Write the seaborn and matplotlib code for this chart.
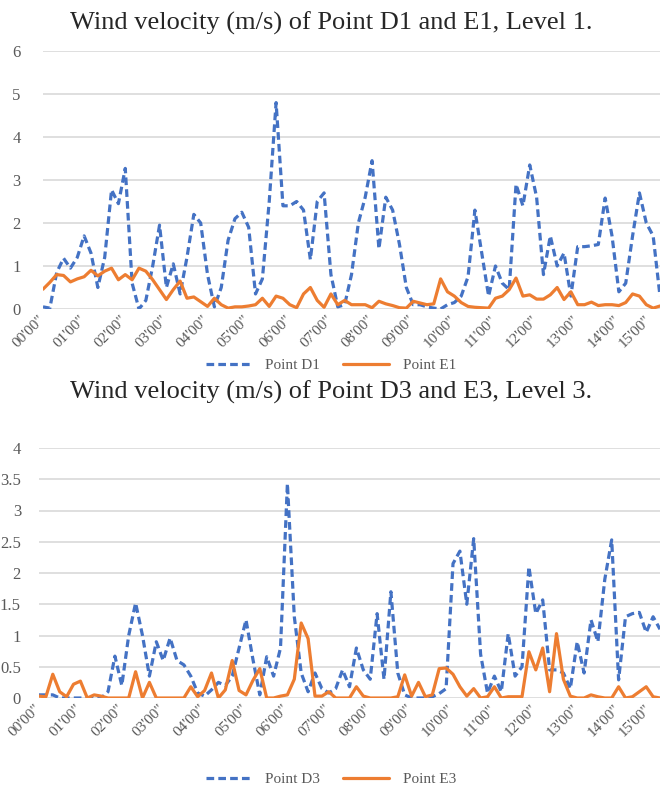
import numpy as np
import pandas as pd
import seaborn as sns
import matplotlib.pyplot as plt
import matplotlib.transforms as mtransforms
from matplotlib.lines import Line2D

# wind velocity every 10 s, 00'00" .. 15'00"
d1 = [0.05, 0.02, 0.85, 1.18, 0.95, 1.2, 1.7, 1.3, 0.5, 1.2,
      2.77, 2.45, 3.27, 0.6, 0.0, 0.2, 1.0, 1.95, 0.5, 1.05,
      0.35, 1.2, 2.2, 2.0, 0.8, 0.05, 0.5, 1.6, 2.1, 2.25,
      1.9, 0.35, 0.7, 2.5, 4.8, 2.4, 2.4, 2.5, 2.3, 1.15,
      2.5, 2.7, 0.8, 0.05, 0.1, 0.8, 2.0, 2.6, 3.45, 1.4,
      2.6, 2.3, 1.5, 0.5, 0.1, 0.1, 0.05, 0.02, 0.0, 0.1,
      0.15, 0.3, 0.75, 2.3, 1.3, 0.3, 1.0, 0.6, 0.45, 2.9,
      2.4, 3.35, 2.6, 0.8, 1.7, 1.0, 1.3, 0.3, 1.45, 1.45,
      1.47, 1.5, 2.58, 1.7, 0.4, 0.6, 1.7, 2.7, 2.0, 1.7, 0.3]
e1 = [0.46, 0.62, 0.8, 0.78, 0.63, 0.7, 0.75, 0.9, 0.77, 0.88,
      0.95, 0.68, 0.8, 0.68, 0.95, 0.88, 0.68, 0.45, 0.22, 0.45,
      0.65, 0.25, 0.28, 0.17, 0.06, 0.25, 0.1, 0.02, 0.05, 0.05,
      0.07, 0.1, 0.25, 0.06, 0.3, 0.25, 0.1, 0.03, 0.35, 0.5,
      0.2, 0.04, 0.35, 0.1, 0.2, 0.1, 0.1, 0.1, 0.03, 0.18,
      0.12, 0.08, 0.03, 0.02, 0.18, 0.14, 0.1, 0.12, 0.7, 0.4,
      0.3, 0.15, 0.06, 0.04, 0.03, 0.02, 0.25, 0.3, 0.45, 0.72,
      0.3, 0.33, 0.23, 0.23, 0.33, 0.5, 0.22, 0.4, 0.1, 0.1,
      0.16, 0.08, 0.1, 0.1, 0.08, 0.15, 0.35, 0.3, 0.1, 0.02, 0.07]
d3 = [0.05, 0.05, 0.05, 0.0, 0.0, 0.0, 0.0, 0.0, 0.0, 0.0,
      0.1, 0.67, 0.2, 1.0, 1.52, 1.0, 0.35, 0.9, 0.6, 0.96,
      0.6, 0.53, 0.35, 0.08, 0.03, 0.13, 0.25, 0.2, 0.35, 0.8,
      1.25, 0.62, 0.05, 0.66, 0.35, 0.8, 3.43, 1.3, 0.4, 0.1,
      0.4, 0.15, 0.08, 0.15, 0.45, 0.18, 0.8, 0.45, 0.3, 1.35,
      0.3, 1.7, 0.4, 0.05, 0.0, 0.0, 0.0, 0.02, 0.07, 0.15,
      2.15, 2.35, 1.5, 2.55, 0.7, 0.08, 0.35, 0.1, 1.03, 0.35,
      0.5, 2.1, 1.35, 1.57, 0.45, 0.45, 0.4, 0.15, 0.9, 0.4,
      1.25, 0.9, 1.9, 2.53, 0.29, 1.3, 1.35, 1.37, 1.05, 1.3, 1.1]
e3 = [0.03, 0.02, 0.38, 0.1, 0.02, 0.22, 0.27, 0.0, 0.05, 0.03,
      0.0, 0.0, 0.0, 0.0, 0.42, 0.0, 0.25, 0.0, 0.0, 0.0,
      0.0, 0.0, 0.18, 0.02, 0.12, 0.4, 0.0, 0.13, 0.6, 0.12,
      0.05, 0.28, 0.47, 0.0, 0.0, 0.03, 0.05, 0.3, 1.2, 0.95,
      0.03, 0.03, 0.1, 0.0, 0.0, 0.0, 0.18, 0.03, 0.0, 0.0,
      0.0, 0.0, 0.02, 0.37, 0.03, 0.25, 0.02, 0.05, 0.47, 0.48,
      0.38, 0.18, 0.03, 0.15, 0.0, 0.02, 0.18, 0.0, 0.02, 0.02,
      0.02, 0.74, 0.45, 0.8, 0.1, 1.03, 0.3, 0.03, 0.0, 0.0,
      0.05, 0.02, 0.0, 0.0, 0.18, 0.0, 0.02, 0.1, 0.18, 0.02, 0.0]

minutes = list(range(16))
tick_labels = [f"{m:02d}'00\"" for m in minutes]

blue = "#4472C4"
orange = "#ED7D31"
grey = "#595959"

sns.set_style("white")
plt.rcParams["font.family"] = ["Liberation Serif", "DejaVu Serif"]

fig = plt.figure(figsize=(6.62, 7.94), dpi=100)


def panel(rect, a, b, name_a, name_b, ymax, ystep, ypad, title, title_y, leg_y):
    ax = fig.add_axes(rect)
    n = len(a)
    df = pd.DataFrame({
        "t": list(range(n)) * 2,
        "v": a + b,
        "s": [name_a] * n + [name_b] * n,
    })
    sns.lineplot(data=df, x="t", y="v", hue="s", style="s",
                 palette={name_a: blue, name_b: orange},
                 dashes={name_a: (2.4, 1.3), name_b: ""},
                 linewidth=2.3, ax=ax, legend=False)
    ax.set_xlim(0, n - 1)
    ax.set_ylim(0, ymax)
    yt = np.arange(0, ymax + 1e-9, ystep)
    ax.set_yticks(yt)
    ax.set_yticklabels([f"{v:g}" for v in yt], fontsize=12, color=grey)
    ax.set_xticks([])
    # rotated minute labels, nudged left like the original chart
    for k, (m, lab) in enumerate(zip(minutes, tick_labels)):
        dx = -15 if k == len(minutes) - 1 else -5
        tr = ax.get_xaxis_transform() + mtransforms.ScaledTranslation(
            dx / 100, -4 / 100, fig.dpi_scale_trans)
        ax.text(m * 6, 0, lab, transform=tr, rotation=45, ha="right",
                va="top", rotation_mode="anchor", fontsize=11, color=grey)
    ax.tick_params(axis="y", length=0, pad=ypad)
    ax.grid(axis="y", color="#D9D9D9", linewidth=1.2)
    ax.set_axisbelow(True)
    for sp in ax.spines.values():
        sp.set_visible(False)
    ax.set_xlabel("")
    ax.set_ylabel("")
    fig.text(0.5, title_y, title, ha="center", va="center", fontsize=19)
    handles = [Line2D([], [], color=blue, lw=2.3, dashes=(2.4, 1.3)),
               Line2D([], [], color=orange, lw=2.3)]
    fig.legend(handles, [name_a, name_b], loc="center", ncol=2,
               bbox_to_anchor=(0.5, leg_y), frameon=False, fontsize=11,
               labelcolor=grey, handlelength=3.0, columnspacing=1.5,
               handletextpad=0.9)
    return ax


panel([43 / 662, 1 - 309 / 794, 617 / 662, 258 / 794], d1, e1,
      "Point D1", "Point E1", 6, 1, 16,
      "Wind velocity (m/s) of Point D1 and E1, Level 1.",
      1 - 23 / 794, 1 - 365 / 794)
panel([39 / 662, 1 - 698 / 794, 621 / 662, 250 / 794], d3, e3,
      "Point D3", "Point E3", 4, 0.5, 13,
      "Wind velocity (m/s) of Point D3 and E3, Level 3.",
      1 - 392 / 794, 1 - 779 / 794)

plt.savefig("out.png", dpi=100)
